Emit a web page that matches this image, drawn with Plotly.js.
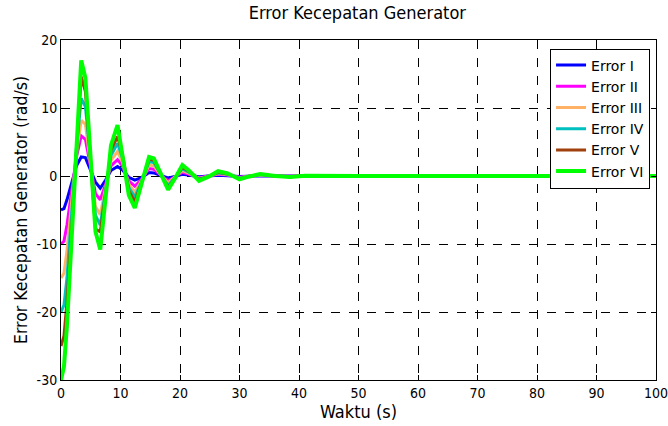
<!DOCTYPE html>
<html>
<head>
<meta charset="utf-8">
<script src="https://cdn.plot.ly/plotly-3.0.1.min.js"></script>
<style>html,body{margin:0;padding:0;background:#fff;}#chart{width:668px;height:426px;}</style>
</head>
<body>
<div id="chart"></div>
<script>
var time = [0, 0.5, 1, 1.5, 2, 2.6, 3.4, 4.1, 5, 5.8, 6.6, 7.5, 8.4, 9.5, 10.3, 11.4, 12.4, 13.6, 14.8, 15.6, 16.8, 18, 19.2, 20.4, 21.4, 23.2, 24.8, 26.4, 28, 30, 31.5, 33.5, 36, 38.5, 41, 45, 50, 60, 70, 80, 90, 100];
var errorI   = [-5, -4.8, -3.5, -1.8, -0.3, 1.5, 2.8, 2.7, 0.8, -0.9, -1.8, -0.6, 0.8, 1.4, 0.9, -0.2, -0.6, -0.2, 0.5, 0.45, 0.05, -0.3, -0.05, 0.25, 0.15, -0.1, 0, 0.1, 0.05, -0.08, -0.02, 0.05, 0, -0.03, 0.01, 0, 0, 0, 0, 0, 0, 0];
var errorII  = [-10, -9.6, -7.2, -4, -0.8, 2.8, 5.9, 5.4, 1.2, -2.6, -3.5, -1.2, 1.5, 2.4, 1.5, -0.7, -1.5, -0.4, 1.1, 1.0, 0.1, -0.7, -0.1, 0.55, 0.3, -0.25, 0, 0.25, 0.15, -0.18, -0.04, 0.1, 0, -0.05, 0.02, 0, 0, 0, 0, 0, 0, 0];
var errorIII = [-15, -14.3, -11, -6.5, -1.8, 3.5, 8.2, 7.6, 1.5, -4.5, -5.7, -1.8, 2.3, 3.6, 2.1, -1.2, -2.4, -0.6, 1.6, 1.5, 0.1, -1.0, -0.15, 0.8, 0.45, -0.35, -0.05, 0.35, 0.2, -0.25, -0.05, 0.15, 0, -0.08, 0.03, 0, 0, 0, 0, 0, 0, 0];
var errorIV  = [-20, -19, -15, -9, -2.8, 4.2, 11.4, 10.2, 2, -5.8, -7.2, -2.2, 3, 4.8, 2.7, -1.7, -3.1, -0.7, 2.1, 2.0, 0.15, -1.4, -0.2, 1.05, 0.6, -0.45, -0.05, 0.45, 0.25, -0.32, -0.07, 0.2, 0, -0.1, 0.03, 0, 0, 0, 0, 0, 0, 0];
var errorV   = [-25, -23.5, -18.5, -11.5, -4, 4.6, 14.6, 12.4, 2.3, -7.8, -8.2, -2.6, 3.8, 5.8, 3.3, -2.2, -3.8, -0.85, 2.5, 2.3, 0.2, -1.7, -0.25, 1.3, 0.75, -0.55, -0.08, 0.55, 0.3, -0.4, -0.08, 0.25, 0, -0.12, 0.04, 0, 0, 0, 0, 0, 0, 0];
var errorVI  = [-30, -28, -22, -14, -5.5, 5, 17, 14.4, 2.4, -8.2, -10.8, -3.2, 4.5, 7.5, 3.2, -2.8, -4.7, -1, 2.8, 2.6, 0.2, -2.0, -0.3, 1.6, 0.9, -0.7, -0.1, 0.7, 0.4, -0.5, -0.1, 0.3, 0, -0.15, 0.05, 0, 0, 0, 0, 0, 0, 0];

var names = ["Error I", "Error II", "Error III", "Error IV", "Error V", "Error VI"];
var series = [errorI, errorII, errorIII, errorIV, errorV, errorVI];
var colors = ["#0000ff", "#ff00ff", "#ffb266", "#00bfbf", "#a0400d", "#00ff00"];
var widths = [3, 3, 3, 3, 3, 4];

var xTicks = [0, 10, 20, 30, 40, 50, 60, 70, 80, 90, 100];
var yTicks = [-30, -20, -10, 0, 10, 20];

var font = "'DejaVu Sans Condensed', 'DejaVu Sans', sans-serif";

var traces = series.map(function (s, i) {
  return {
    x: time, y: s, type: "scatter", mode: "lines", name: names[i],
    line: {color: colors[i], width: widths[i]}
  };
});

var layout = {
  width: 668, height: 426,
  margin: {l: 61, r: 12, t: 40, b: 46},
  paper_bgcolor: "#fff", plot_bgcolor: "#fff",
  font: {family: font, color: "#000", size: 14},
  title: {text: "Error Kecepatan Generator", font: {size: 18, family: font, color: "#000"}, x: 0.535, xanchor: "center", y: 0.985, yanchor: "top"},
  xaxis: {
    range: [0, 100], tickvals: xTicks, ticktext: xTicks.map(String),
    showline: true, linecolor: "#000", linewidth: 1, mirror: "ticks",
    ticks: "inside", ticklen: 5, tickcolor: "#000",
    showgrid: true, gridcolor: "#000", griddash: "dash", gridwidth: 1,
    zeroline: false, tickfont: {size: 14, family: font},
    ticklabeloverflow: "allow",
    title: {text: "Waktu (s)", font: {size: 18, family: font}, standoff: 2}
  },
  yaxis: {
    range: [-30, 20], tickvals: yTicks, ticktext: yTicks.map(String),
    showline: true, linecolor: "#000", linewidth: 1, mirror: "ticks",
    ticks: "inside", ticklen: 5, tickcolor: "#000",
    showgrid: true, gridcolor: "#000", griddash: "dash", gridwidth: 1,
    zeroline: false, tickfont: {size: 14, family: font},
    ticklabeloverflow: "allow",
    title: {text: "Error Kecepatan Generator (rad/s)", font: {size: 17.5, family: font}, standoff: 4}
  },
  legend: {
    x: 0.99, xanchor: "right", y: 0.975, yanchor: "top",
    bgcolor: "#fff", bordercolor: "#000", borderwidth: 1,
    font: {size: 14, family: "'DejaVu Sans', sans-serif"}, tracegroupgap: 0
  },
  showlegend: true
};

Plotly.newPlot("chart", traces, layout, {displayModeBar: false, staticPlot: true});
</script>
</body>
</html>
